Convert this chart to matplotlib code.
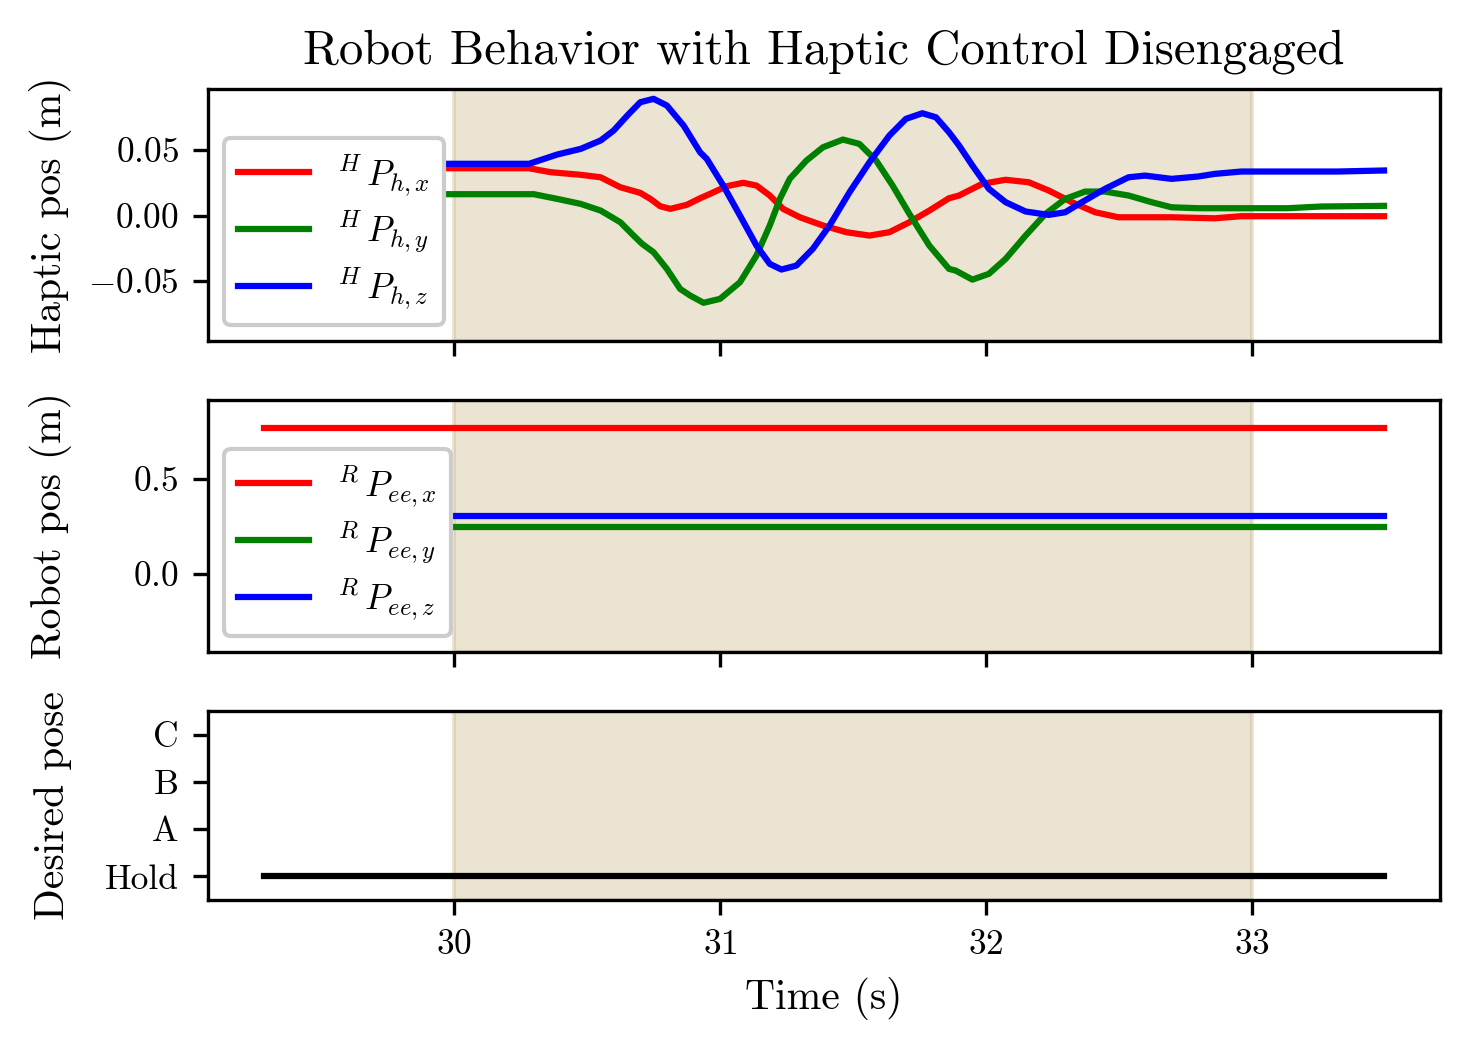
import matplotlib
matplotlib.use('Agg')
import matplotlib.pyplot as plt

# Schrift wie LaTeX (Computer Modern)
plt.rcParams['font.family'] = 'serif'
plt.rcParams['font.serif'] = ['cmr10']
plt.rcParams['mathtext.fontset'] = 'cm'
plt.rcParams['axes.formatter.use_mathtext'] = True

# Haptic position (m)
t_hx = [29.285, 30.281, 30.363, 30.476, 30.551, 30.625, 30.700, 30.738, 30.775, 30.813,
        30.875, 30.925, 30.963, 31.025, 31.087, 31.137, 31.187, 31.237, 31.300, 31.387,
        31.475, 31.562, 31.637, 31.712, 31.787, 31.861, 31.899, 31.986, 32.074, 32.161,
        32.236, 32.323, 32.411, 32.498, 32.598, 32.698, 32.798, 32.860, 32.960, 33.497]
h_x = [0.0361, 0.0361, 0.0331, 0.0311, 0.0292, 0.0216, 0.0173, 0.0127, 0.0071, 0.0051,
       0.0082, 0.0132, 0.0166, 0.0224, 0.0250, 0.0229, 0.0153, 0.0051, -0.0013, -0.0076,
       -0.0127, -0.0153, -0.0127, -0.0051, 0.0038, 0.0132, 0.0153, 0.0242, 0.0273, 0.0254,
       0.0191, 0.0102, 0.0025, -0.0013, -0.0013, -0.0013, -0.0018, -0.0021, -0.0005, -0.0005]

t_hy = [29.285, 30.300, 30.388, 30.476, 30.551, 30.625, 30.675, 30.707, 30.750, 30.800,
        30.850, 30.888, 30.938, 31.000, 31.075, 31.137, 31.187, 31.225, 31.262, 31.325,
        31.387, 31.462, 31.524, 31.587, 31.649, 31.712, 31.787, 31.861, 31.886, 31.949,
        32.011, 32.074, 32.149, 32.224, 32.298, 32.373, 32.448, 32.536, 32.623, 32.698,
        32.798, 32.948, 33.135, 33.260, 33.497]
h_y = [0.0163, 0.0163, 0.0127, 0.0089, 0.0038, -0.0051, -0.0153, -0.0216, -0.0280, -0.0407,
       -0.0560, -0.0611, -0.0666, -0.0636, -0.0509, -0.0305, -0.0076, 0.0127, 0.0280, 0.0420,
       0.0521, 0.0580, 0.0547, 0.0420, 0.0229, 0.0013, -0.0229, -0.0407, -0.0420, -0.0489,
       -0.0445, -0.0331, -0.0153, 0.0013, 0.0127, 0.0183, 0.0183, 0.0153, 0.0102, 0.0063,
       0.0056, 0.0056, 0.0056, 0.0069, 0.0074]

t_hz = [29.285, 30.282, 30.388, 30.476, 30.551, 30.600, 30.651, 30.700, 30.750, 30.800,
        30.863, 30.925, 30.950, 31.012, 31.075, 31.137, 31.187, 31.231, 31.287, 31.349,
        31.412, 31.487, 31.562, 31.637, 31.699, 31.761, 31.812, 31.861, 31.899, 31.949,
        32.011, 32.074, 32.149, 32.236, 32.298, 32.361, 32.448, 32.536, 32.598, 32.698,
        32.798, 32.860, 32.960, 33.135, 33.322, 33.497]
h_z = [0.0395, 0.0395, 0.0466, 0.0509, 0.0573, 0.0649, 0.0763, 0.0865, 0.0891, 0.0840,
       0.0687, 0.0483, 0.0433, 0.0229, 0.0000, -0.0229, -0.0369, -0.0412, -0.0382, -0.0254,
       -0.0076, 0.0178, 0.0407, 0.0611, 0.0738, 0.0781, 0.0750, 0.0636, 0.0534, 0.0382,
       0.0204, 0.0102, 0.0031, 0.0005, 0.0025, 0.0102, 0.0204, 0.0292, 0.0305, 0.0280,
       0.0298, 0.0318, 0.0336, 0.0336, 0.0336, 0.0344]

# Robot position (m) und gewuenschte Pose
t_robot = [29.285, 33.497]
r_x = [0.768, 0.768]
r_y = [0.247, 0.247]
r_z = [0.305, 0.305]
pose = [0, 0]
pose_labels = ['Hold', 'A', 'B', 'C']

# Zeitraum ohne haptische Kontrolle
span_start = 30
span_end = 33

fig, axs = plt.subplots(3, 1, figsize=(4.9, 3.49), dpi=300, sharex=True,
                        gridspec_kw={'height_ratios': [4, 4, 3]})
fig.subplots_adjust(left=0.1415, right=0.9796, top=0.915, bottom=0.1404, hspace=0.255)

for ax in axs:
    ax.axvspan(span_start, span_end, color='#c6b281', alpha=0.35)
    ax.tick_params(labelsize=8.5)

leg_opts = dict(loc='lower left', fontsize=8.5, framealpha=1, labelspacing=0.3,
                handlelength=2.0, borderaxespad=0.45)

ax = axs[0]
ax.plot(t_hx, h_x, color='red', lw=1.5, label=r'$^{H}\,P_{h,x}$')
ax.plot(t_hy, h_y, color='green', lw=1.5, label=r'$^{H}\,P_{h,y}$')
ax.plot(t_hz, h_z, color='blue', lw=1.5, label=r'$^{H}\,P_{h,z}$')
ax.set_ylim(-0.0958, 0.0966)
ax.set_yticks([-0.05, 0.0, 0.05])
ax.set_ylabel('Haptic pos (m)', fontsize=10)
ax.set_title('Robot Behavior with Haptic Control Disengaged', fontsize=11.7)
ax.legend(**leg_opts)

ax = axs[1]
ax.plot(t_robot, r_x, color='red', lw=1.5, label=r'$^{R}\,P_{ee,x}$')
ax.plot(t_robot, r_y, color='green', lw=1.5, label=r'$^{R}\,P_{ee,y}$')
ax.plot(t_robot, r_z, color='blue', lw=1.5, label=r'$^{R}\,P_{ee,z}$')
ax.set_ylim(-0.41, 0.916)
ax.set_yticks([0.0, 0.5])
ax.set_ylabel('Robot pos (m)', fontsize=10)
ax.legend(**leg_opts)

ax = axs[2]
ax.plot(t_robot, pose, color='black', lw=1.5)
ax.set_ylim(-0.5, 3.5)
ax.set_yticks(range(len(pose_labels)))
ax.set_yticklabels(pose_labels)
ax.set_ylabel('Desired pose', fontsize=10)
ax.set_xticks([30, 31, 32, 33])
ax.set_xlabel('Time (s)', fontsize=10)

fig.align_ylabels(axs)
fig.savefig('out.png', dpi=300)
